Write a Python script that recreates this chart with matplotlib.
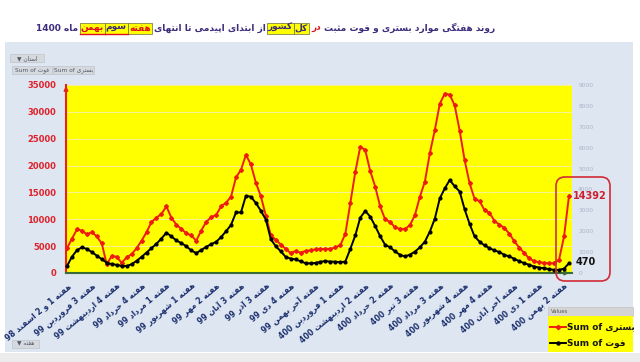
import re
import numpy as np
import matplotlib
matplotlib.use("Agg")
import matplotlib.pyplot as plt
from matplotlib.patches import Rectangle, FancyBboxPatch
from matplotlib.lines import Line2D
from matplotlib.transforms import IdentityTransform

# ---------------- data ----------------
tick_labels = [
    "هفته 1 و 2 اسفند 98", "هفته 3 فروردین 99", "هفته 4 اردیبهشت 99",
    "هفته 4 خرداد 99", "هفته 1 مرداد 99", "هفته 1 شهریور 99",
    "هفته 2 مهر 99", "هفته 3 آبان 99", "هفته 3 آذر 99", "هفته 4 دی 99",
    "هفته آخر بهمن 99", "هفته 1 فروردین 400", "هفته 2 اردیبهشت 400",
    "هفته 2 خرداد 400", "هفته 3 تیر 400", "هفته 3 مرداد 400",
    "هفته 4 شهریور 400", "هفته 4 مهر 400", "هفته آخر آبان 400",
    "هفته 1 دی 400", "هفته 2 بهمن 400",
]
tick_step = 5

hospitalized = [
    4600, 6400, 8100, 7900, 7200, 7600, 6800, 5500, 1600, 3200,
    3000, 1900, 2900, 3500, 4600, 6000, 7600, 9500, 10300, 11000,
    12400, 10300, 9000, 8200, 7400, 7000, 6000, 7900, 9500, 10400,
    10800, 12400, 13100, 14200, 17800, 19200, 22000, 20200, 16800, 14300,
    10700, 7000, 6200, 5300, 4500, 3700, 4100, 3800, 4100, 4200,
    4400, 4450, 4500, 4500, 4750, 5200, 7300, 13000, 18800, 23500,
    22900, 19000, 16100, 12400, 10000, 9500, 8500, 8200, 8200, 8900,
    10800, 14200, 17000, 22300, 26600, 31500, 33400, 33200, 31200, 26500,
    21000, 16700, 13800, 13400, 11700, 11200, 9700, 9000, 8400, 7300,
    5900, 4700, 3700, 2700, 2200, 2000, 1900, 1800, 1800, 2500,
    6800, 14392,
]
deaths = [
    330, 780, 1090, 1230, 1150, 1000, 830, 660, 490, 430,
    390, 340, 335, 420, 580, 770, 980, 1190, 1400, 1650,
    1930, 1750, 1560, 1430, 1280, 1080, 950, 1100, 1250, 1380,
    1490, 1720, 2000, 2300, 2900, 2900, 3700, 3650, 3350, 2980,
    2560, 1620, 1280, 1040, 770, 690, 650, 560, 470, 460,
    480, 540, 570, 545, 540, 510, 550, 1150, 1800, 2650,
    2970, 2700, 2250, 1760, 1350, 1230, 1030, 870, 790, 880,
    1020, 1230, 1500, 1980, 2600, 3570, 4050, 4450, 4150, 3900,
    3050, 2350, 1750, 1500, 1320, 1190, 1080, 1000, 870, 790,
    680, 560, 470, 390, 310, 260, 225, 185, 150, 150,
    210, 470,
]
left_ticks = list(range(0, 35001, 5000))
right_ticks = list(range(0, 9001, 1000))

title_parts = [
    ("روند هفتگی موارد بستری و فوت مثبت", "title", False),
    ("در", "red", False),
    ("کل", "title", True),
    ("کشور", "title", True),
    ("از ابتدای اپیدمی تا انتهای", "title", False),
    ("هفته", "red", True),
    ("سوم", "title", True),
    ("بهمن", "red", True),
    ("ماه 1400", "title", False),
]
legend_labels = ["Sum of بستری", "Sum of فوت"]

# ---------------- Persian shaping ----------------
FORMS = {
    'ا': (0xFE8D, 0xFE8E, None, None), 'آ': (0xFE81, 0xFE82, None, None),
    'ب': (0xFE8F, 0xFE90, 0xFE91, 0xFE92), 'ت': (0xFE95, 0xFE96, 0xFE97, 0xFE98),
    'ث': (0xFE99, 0xFE9A, 0xFE9B, 0xFE9C), 'ج': (0xFE9D, 0xFE9E, 0xFE9F, 0xFEA0),
    'ح': (0xFEA1, 0xFEA2, 0xFEA3, 0xFEA4), 'خ': (0xFEA5, 0xFEA6, 0xFEA7, 0xFEA8),
    'د': (0xFEA9, 0xFEAA, None, None), 'ذ': (0xFEAB, 0xFEAC, None, None),
    'ر': (0xFEAD, 0xFEAE, None, None), 'ز': (0xFEAF, 0xFEB0, None, None),
    'س': (0xFEB1, 0xFEB2, 0xFEB3, 0xFEB4), 'ش': (0xFEB5, 0xFEB6, 0xFEB7, 0xFEB8),
    'ص': (0xFEB9, 0xFEBA, 0xFEBB, 0xFEBC), 'ض': (0xFEBD, 0xFEBE, 0xFEBF, 0xFEC0),
    'ط': (0xFEC1, 0xFEC2, 0xFEC3, 0xFEC4), 'ظ': (0xFEC5, 0xFEC6, 0xFEC7, 0xFEC8),
    'ع': (0xFEC9, 0xFECA, 0xFECB, 0xFECC), 'غ': (0xFECD, 0xFECE, 0xFECF, 0xFED0),
    'ف': (0xFED1, 0xFED2, 0xFED3, 0xFED4), 'ق': (0xFED5, 0xFED6, 0xFED7, 0xFED8),
    'ل': (0xFEDD, 0xFEDE, 0xFEDF, 0xFEE0), 'م': (0xFEE1, 0xFEE2, 0xFEE3, 0xFEE4),
    'ن': (0xFEE5, 0xFEE6, 0xFEE7, 0xFEE8), 'ه': (0xFEE9, 0xFEEA, 0xFEEB, 0xFEEC),
    'و': (0xFEED, 0xFEEE, None, None), 'پ': (0xFB56, 0xFB57, 0xFB58, 0xFB59),
    'چ': (0xFB7A, 0xFB7B, 0xFB7C, 0xFB7D), 'ژ': (0xFB8A, 0xFB8B, None, None),
    'ک': (0xFB8E, 0xFB8F, 0xFB90, 0xFB91), 'گ': (0xFB92, 0xFB93, 0xFB94, 0xFB95),
    'ی': (0xFBFC, 0xFBFD, 0xFBFE, 0xFBFF), 'ي': (0xFEF1, 0xFEF2, 0xFEF3, 0xFEF4),
    'ك': (0xFED9, 0xFEDA, 0xFEDB, 0xFEDC),
}


def shape(s):
    out = []
    for k, c in enumerate(s):
        if c not in FORMS:
            out.append(c)
            continue
        prev = s[k - 1] if k > 0 else None
        nxt = s[k + 1] if k + 1 < len(s) else None
        jp = prev in FORMS and FORMS[prev][2] is not None
        jn = nxt in FORMS and FORMS[c][2] is not None
        iso, fin, ini, med = FORMS[c]
        if jp and jn:
            code = med
        elif jp:
            code = fin
        elif jn:
            code = ini
        else:
            code = iso
        out.append(chr(code))
    return ''.join(out)


def fa(s):
    """Shape and reorder for a right-to-left paragraph."""
    t = shape(s)
    runs = re.findall(r'[0-9A-Za-z]+|[^0-9A-Za-z]+', t)
    out = []
    for r in reversed(runs):
        out.append(r if re.match(r'[0-9A-Za-z]', r) else r[::-1])
    return ''.join(out)


def fa_ltr(s):
    """Latin base direction with embedded Persian words."""
    parts = re.findall(r'[A-Za-z0-9 ]+|[^A-Za-z0-9 ]+', s)
    return ''.join(p if re.match(r'[A-Za-z0-9 ]', p) else fa(p) for p in parts)


# ---------------- figure ----------------
W, H = 640, 362
DPI = 100
plt.rcParams['font.family'] = ['DejaVu Sans']
fig = plt.figure(figsize=(W / DPI, H / DPI), dpi=DPI)
fig.patch.set_facecolor('white')
PX = IdentityTransform()


def py(y):
    return H - y


TITLE_C = '#3d2c7c'
RED_T = '#e0101a'
RED_LINE = '#ee1c0e'
NAVY = '#1c2f6e'

# panel background
fig.patches.append(Rectangle((5, py(352)), 628, 352 - 42, transform=PX,
                             facecolor='#dde6f1', edgecolor='none', zorder=-5))
fig.patches.append(Rectangle((0, 0), W, py(353), transform=PX,
                             facecolor='#ececec', edgecolor='none', zorder=-5))

# axes
ax = fig.add_axes([66 / W, 1 - 273 / H, (572 - 66) / W, (273 - 85) / H])
ax.set_facecolor('#ffff00')
ax2 = ax.twinx()
ax.set_zorder(2)
ax2.set_zorder(3)

x = np.arange(len(hospitalized))
ax.plot(x, hospitalized, color=RED_LINE, lw=1.4, marker='D', ms=2.0,
        zorder=3, clip_on=False)
ax2.plot(x, deaths, color='black', lw=1.4, marker='o', ms=2.0,
         zorder=3, clip_on=False)

ax.set_xlim(-0.2, 101.6)
ax.set_ylim(0, 35000)
ax2.set_ylim(0, 9000)

ax.set_yticks(left_ticks)
ax.set_yticklabels([str(v) for v in left_ticks])
ax.tick_params(axis='y', length=0, pad=7, labelsize=6, labelcolor='#e0202a')
for t in ax.get_yticklabels():
    t.set_fontweight('bold')
ax.grid(axis='y', color='#f4f49a', lw=0.7)
ax.set_axisbelow(True)

ax2.set_yticks(right_ticks)
ax2.set_yticklabels([str(v) for v in right_ticks])
ax2.tick_params(axis='y', length=0, pad=4.5, labelsize=4.3, labelcolor='#a9b4c6')

tpos = list(range(0, tick_step * len(tick_labels), tick_step))
ax.set_xticks(tpos)
ax.set_xticklabels([fa(l) for l in tick_labels], rotation=40, ha='right',
                   va='top', rotation_mode='anchor')
ax.tick_params(axis='x', length=0, pad=6, labelsize=5.6, labelcolor=NAVY)
for t in ax.get_xticklabels():
    t.set_fontweight('bold')

for s in ['top', 'right']:
    ax.spines[s].set_visible(False)
for s in ax2.spines.values():
    s.set_visible(False)
ax.spines['left'].set_color('#e8231c')
ax.spines['left'].set_linewidth(1.5)
ax.spines['bottom'].set_color('#3a6b35')
ax.spines['bottom'].set_linewidth(1.5)
ax.annotate('', xy=(0, 1.01), xytext=(0, 0.96), xycoords='axes fraction',
            arrowprops=dict(arrowstyle='-|>', color='#e8231c', lw=1.2,
                            mutation_scale=6))
ax.annotate('', xy=(1.0, 0), xytext=(0.97, 0), xycoords='axes fraction',
            arrowprops=dict(arrowstyle='-|>', color='#3a6b35', lw=1.2,
                            mutation_scale=6))

# data labels on last points
ax2.annotate(str(hospitalized[-1]), xy=(1, hospitalized[-1] / 35000),
             xycoords='axes fraction', xytext=(0.5, 0),
             textcoords='offset points', ha='left', va='center', fontsize=7,
             fontweight='bold', color='#d01e2e', zorder=5, annotation_clip=False)
ax2.annotate(str(deaths[-1]), xy=(x[-1], deaths[-1]), xytext=(5, 1),
             textcoords='offset points', ha='left', va='center', fontsize=7,
             fontweight='bold', color='#111111', zorder=5, annotation_clip=False)

# red rounded highlight box
fig.patches.append(FancyBboxPatch((556, py(281)), 54, 281 - 177,
                                  boxstyle='round,pad=0,rounding_size=9',
                                  transform=PX, facecolor='none',
                                  edgecolor='#d42a36', lw=1.2, zorder=10))

# ---------------- title ----------------
renderer = fig.canvas.get_renderer()
colors = {'title': TITLE_C, 'red': RED_T}


def layout_title(fs, draw):
    xr = 495
    yc = py(28)
    total = 0
    space = None
    gap = 0
    for k, (txt, col, hl) in enumerate(title_parts):
        t = fig.text(xr, yc, fa(txt), transform=PX, ha='right', va='center',
                     fontsize=fs, fontweight='bold', color=colors[col], zorder=6)
        bb = t.get_window_extent(renderer)
        w = bb.width
        if space is None:
            sp = fig.text(0, 0, fa('ا ا'), transform=PX, fontsize=fs, fontweight='bold')
            sp2 = fig.text(0, 0, fa('اا'), transform=PX, fontsize=fs, fontweight='bold')
            space = sp.get_window_extent(renderer).width - sp2.get_window_extent(renderer).width
            sp.remove(); sp2.remove()
        if draw and hl:
            h = bb.height
            fig.patches.append(Rectangle((xr - w - 1, yc - h / 2 - 1), w + 2, h + 2,
                                         transform=PX, facecolor='#ffff00',
                                         edgecolor='#6a6a40', lw=0.5, zorder=5))
            if txt in ("سوم", "بهمن"):
                fig.lines.append(Line2D([xr - w - 1, xr + 1], [yc - h / 2 - 1.5] * 2,
                                        transform=PX, color='#e0101a', lw=1.0, zorder=6))
        if not draw:
            t.remove()
        nxt_hl = k + 1 < len(title_parts) and title_parts[k + 1][2]
        gap = 2 if (hl and nxt_hl) else space
        if hl and k + 1 < len(title_parts) and not nxt_hl:
            gap = space * 0.6
        xr -= w + gap
        total += w + gap
    return total - gap


fs0 = 10.0
tw = layout_title(fs0, False)
fs = fs0 * 458 / tw
layout_title(fs, True)

# ---------------- pivot buttons ----------------
def button(x0, y0, w, h, label, fs=4.2):
    fig.patches.append(Rectangle((x0, py(y0 + h)), w, h, transform=PX,
                                 facecolor='#d6d9de', edgecolor='#b9bec6',
                                 lw=0.4, zorder=4))
    fig.text(x0 + w / 2, py(y0 + h / 2), label, transform=PX, ha='center',
             va='center', fontsize=fs, color='#505a68', zorder=5)


button(10, 54, 34, 8, '\u25bc ' + fa('استان'))
button(12, 66, 40, 8, fa_ltr('Sum of فوت'))
button(53, 66, 41, 8, fa_ltr('Sum of بستری'))
button(12, 340, 27, 8, '\u25bc ' + fa('هفته'))

# ---------------- legend ----------------
fig.patches.append(Rectangle((548, py(316)), 85, 9, transform=PX,
                             facecolor='#d4d4d4', edgecolor='#bcbcbc', lw=0.4, zorder=4))
fig.text(551, py(311.5), 'Values', transform=PX, ha='left', va='center',
         fontsize=3.8, color='#555555', zorder=5)
fig.patches.append(Rectangle((548, py(352)), 85, 36, transform=PX,
                             facecolor='#ffff00', edgecolor='none', zorder=4))
for yy, col, mk, lab in [(327, RED_LINE, 'D', legend_labels[0]),
                         (343, 'black', 'o', legend_labels[1])]:
    fig.lines.append(Line2D([550, 566], [py(yy), py(yy)], transform=PX,
                            color=col, lw=1.4, zorder=5))
    fig.lines.append(Line2D([558], [py(yy)], transform=PX, color=col,
                            marker=mk, ms=2.2, zorder=6))
    fig.text(567, py(yy), fa_ltr(lab), transform=PX, ha='left', va='center',
             fontsize=6.4, fontweight='bold', color='#151515', zorder=6)

fig.savefig('out.png', dpi=DPI)
